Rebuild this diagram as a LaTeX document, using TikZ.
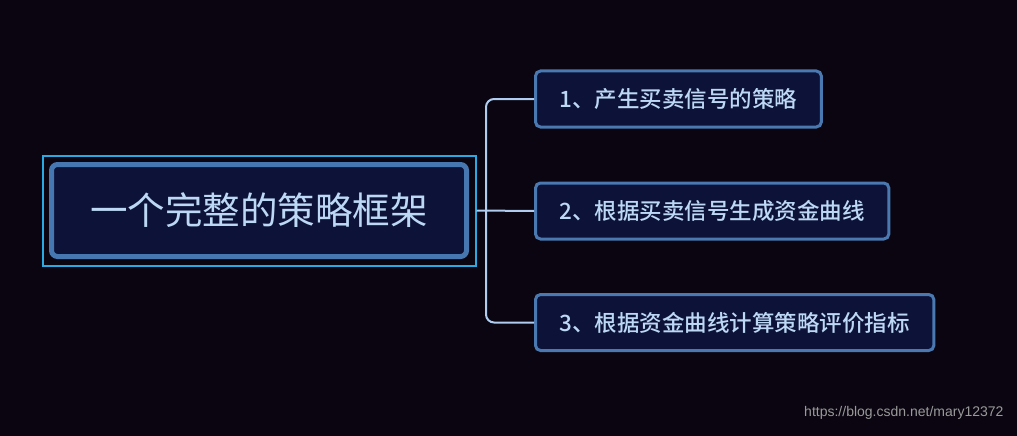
\documentclass[tikz,border=0pt]{standalone}
\usepackage{fontspec}
\newfontfamily\cjk{Noto Sans CJK SC}
\newfontfamily\cjkmed{Noto Sans CJK SC Medium}
\newfontfamily\markfont{Liberation Sans}
\usetikzlibrary{positioning,fit}
\definecolor{bgdark}{HTML}{0A0510}
\definecolor{nodefill}{HTML}{0D1238}
\definecolor{rootedge}{HTML}{4677B0}
\definecolor{nodeedge}{HTML}{4A78B0}
\definecolor{frameedge}{HTML}{2AAAE2}
\definecolor{labeltext}{HTML}{BCD8F5}
\definecolor{linkcol}{HTML}{B0CCEE}
\definecolor{markgray}{HTML}{9A9A9A}

\begin{document}
\begin{tikzpicture}[
    x=1pt, y=-1pt,
    root/.style   = {draw=rootedge, fill=nodefill, line width=5pt,
                     rounded corners=6pt, minimum width=415pt,
                     minimum height=92pt, text=labeltext,
                     font=\cjk\fontsize{37.5}{42}\selectfont},
    frame/.style  = {draw=frameedge, line width=2pt, inner sep=6.5pt},
    branch/.style = {draw=nodeedge, fill=nodefill, line width=3pt,
                     rounded corners=5pt, minimum height=56pt,
                     inner xsep=24pt, anchor=west, text=labeltext,
                     font=\cjkmed\fontsize{22.5}{26}\selectfont},
    link/.style   = {draw=linkcol, line width=2pt, rounded corners=8pt},
  ]

  % background and page size
  \fill[bgdark] (0,0) rectangle (1017,436);
  \useasboundingbox (0,0) rectangle (1017,436);

  % ----- central topic -----
  \node[root] (root) at (259,210.5) {一个完整的策略框架};
  \node[frame, fit=(root)] (frame) {};

  % ----- branches -----
  \node[branch] (b1) at (534,99)    {1、产生买卖信号的策略};
  \node[branch] (b2) at (534,211)   {2、根据买卖信号生成资金曲线};
  \node[branch] (b3) at (534,322.5) {3、根据资金曲线计算策略评价指标};

  % ----- connectors -----
  \coordinate (fork) at (486,211);
  \draw[link] (frame.east) -- (b2.west);
  \draw[link] (fork) |- (b1.west);
  \draw[link] (fork) |- (b3.west);

  % watermark
  \node[anchor=east, text=markgray, font=\markfont\fontsize{14}{16}\selectfont]
    (mark) at (1007,413) {https://blog.csdn.net/mary12372};

\end{tikzpicture}
\end{document}
